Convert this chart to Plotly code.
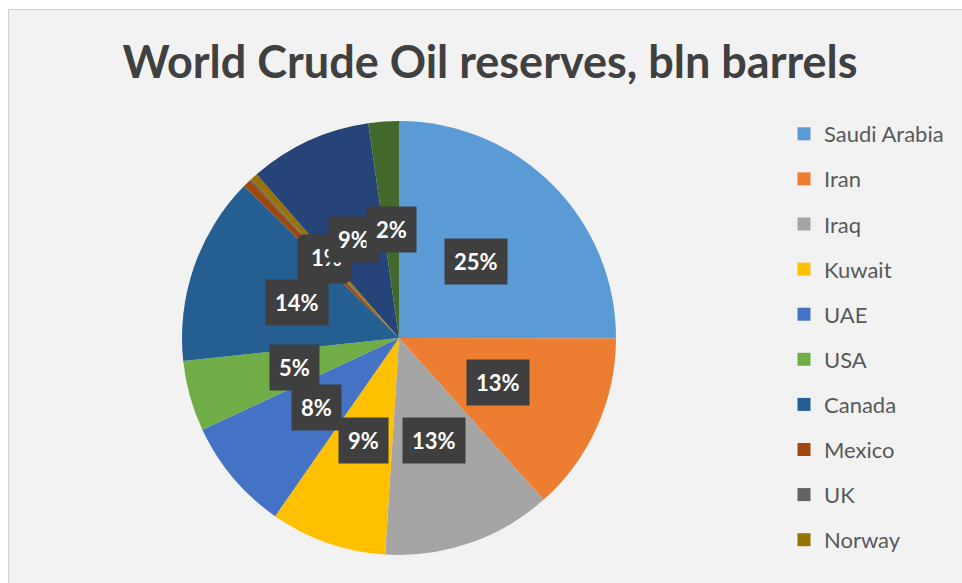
import math
import plotly.graph_objects as go

# ---- data ----
countries = ["Saudi Arabia", "Iran", "Iraq", "Kuwait", "UAE", "USA", "Canada",
             "Mexico", "UK", "Norway", "Russia", "Kazakhstan"]
reserves = [266, 142, 134, 92, 89, 56, 149, 6.5, 1.5, 5.5, 97, 24]
colors = ["#5B9BD5", "#ED7D31", "#A5A5A5", "#FFC000", "#4472C4", "#70AD47",
          "#255E91", "#9E480E", "#636363", "#997300", "#264478", "#43682B"]
legend_countries = countries[:10]
title_text = "World Crude Oil reserves, bln barrels"

W, H = 962, 583
# pie geometry (pixels)
cx, cy, R = 399, 338, 217

fig = go.Figure()
fig.add_trace(go.Pie(
    labels=countries, values=reserves, sort=False, direction="clockwise",
    rotation=0, marker=dict(colors=colors, line=dict(width=0)),
    textinfo="none", showlegend=False, hoverinfo="label+value+percent",
    domain=dict(x=[(cx - R) / W, (cx + R) / W], y=[1 - (cy + R) / H, 1 - (cy - R) / H]),
))

# legend via dummy traces
for name, col in zip(legend_countries, colors):
    fig.add_trace(go.Scatter(
        x=[None], y=[None], mode="markers", name=name, legendgroup=name,
        marker=dict(symbol="square", size=13, color=col, line=dict(width=0)),
    ))

# data labels (Excel style boxes) at half radius along mid-angle
total = sum(reserves)
annotations = []
cum = 0.0
for v in reserves:
    frac = v / total
    mid = (cum + frac / 2) * 2 * math.pi
    cum += frac
    r = 0.5 * R
    px = cx + r * math.sin(mid)
    py = cy - r * math.cos(mid)
    pct = int(frac * 100 + 0.5)
    annotations.append(dict(
        x=px / W, y=1 - py / H, xref="paper", yref="paper", showarrow=False,
        text="<b>%d%%</b>" % pct, font=dict(family="Lato", size=22, color="white"),
        bgcolor="#3f3f3f", borderpad=9, xanchor="center", yanchor="middle",
    ))

fig.update_layout(
    width=W, height=H, margin=dict(l=0, r=0, t=0, b=0),
    paper_bgcolor="white", plot_bgcolor="rgba(0,0,0,0)",
    xaxis=dict(visible=False), yaxis=dict(visible=False),
    title=dict(text="<b>" + title_text + "</b>", x=490 / W, xanchor="center",
               y=1 - 62 / H, yanchor="middle", yref="container",
               font=dict(family="Lato", size=45, color="#404040")),
    legend=dict(x=784 / W, xanchor="left", y=1 - 113 / H, yanchor="top",
                font=dict(family="Lato", size=22, color="#595959"),
                tracegroupgap=13.5, itemsizing="trace", bgcolor="rgba(0,0,0,0)"),
    shapes=[dict(type="rect", xref="paper", yref="paper", x0=8.5 / W, x1=1.02,
                 y0=-0.02, y1=1 - 9.5 / H, fillcolor="#F2F2F2",
                 line=dict(color="#D0D0D0", width=1), layer="below")],
    annotations=annotations,
)

fig.write_html("out.html")
